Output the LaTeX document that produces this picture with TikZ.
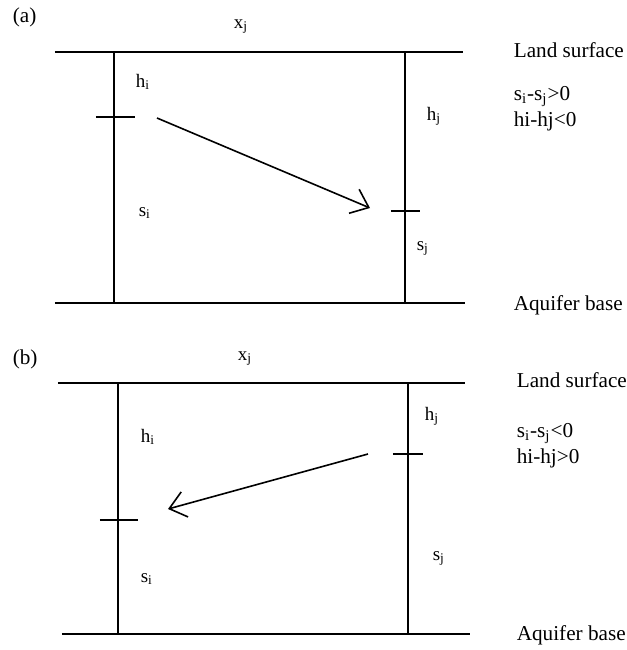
\documentclass[tikz,border=0pt]{standalone}
\usepackage{fontspec}
\setmainfont{Liberation Serif}
\usetikzlibrary{arrows.meta}
\newcommand{\sbs}[2]{#1\textsubscript{#2}}

\begin{document}
\begin{tikzpicture}[x=0.5pt,y=-0.5pt,line width=0.8pt,
    lbl/.style={inner sep=0pt,anchor=base west,font=\fontsize{9.5}{11}\selectfont},
    side/.style={lbl,font=\fontsize{10.6}{12}\selectfont},
    flow/.style={-{Straight Barb[length=8pt,width=13pt]}}]
    \useasboundingbox (0,0) rectangle (627,650);

    % (a)
    \node[side] (pa) at (12,22) {(a)};
    \node[lbl] (xa) at (233,28) {\sbs{x}{j}};
    \draw (55,52) -- (463,52);
    \draw (55,303) -- (465,303);
    \draw (114,52) -- (114,303);
    \draw (405,52) -- (405,303);
    \draw (96,117) -- (135,117);
    \draw (391,211) -- (420,211);
    \node[lbl] (hia) at (135,87) {\sbs{h}{i}};
    \node[lbl] (sia) at (138,216) {\sbs{s}{i}};
    \node[lbl] (hja) at (426,120) {\sbs{h}{j}};
    \node[lbl] (sja) at (416,250) {\sbs{s}{j}};
    \coordinate (fa) at (157,118);
    \coordinate (ta) at (370,208);
    \draw[flow] (fa) -- (ta);
    \node[side] (lsa) at (513,57) {Land surface};
    \node[side] (ca) at (513,100) {\sbs{s}{i}-\sbs{s}{j}>0};
    \node[side] (da) at (513,126) {hi-hj<0};
    \node[side] (aba) at (513,310) {Aquifer base};

    % (b)
    \node[side] (pb) at (12,364) {(b)};
    \node[lbl] (xb) at (237,360) {\sbs{x}{j}};
    \draw (58,383) -- (465,383);
    \draw (62,634) -- (470,634);
    \draw (118,383) -- (118,634);
    \draw (408,383) -- (408,634);
    \draw (100,520) -- (138,520);
    \draw (393,454) -- (423,454);
    \node[lbl] (hib) at (140,442) {\sbs{h}{i}};
    \node[lbl] (sib) at (140,582) {\sbs{s}{i}};
    \node[lbl] (hjb) at (424,420) {\sbs{h}{j}};
    \node[lbl] (sjb) at (432,560) {\sbs{s}{j}};
    \coordinate (fb) at (368,454);
    \coordinate (tb) at (168,509);
    \draw[flow] (fb) -- (tb);
    \node[side] (lsb) at (516,387) {Land surface};
    \node[side] (cb) at (516,437) {\sbs{s}{i}-\sbs{s}{j}<0};
    \node[side] (db) at (516,463) {hi-hj>0};
    \node[side] (abb) at (516,640) {Aquifer base};
\end{tikzpicture}
\end{document}
